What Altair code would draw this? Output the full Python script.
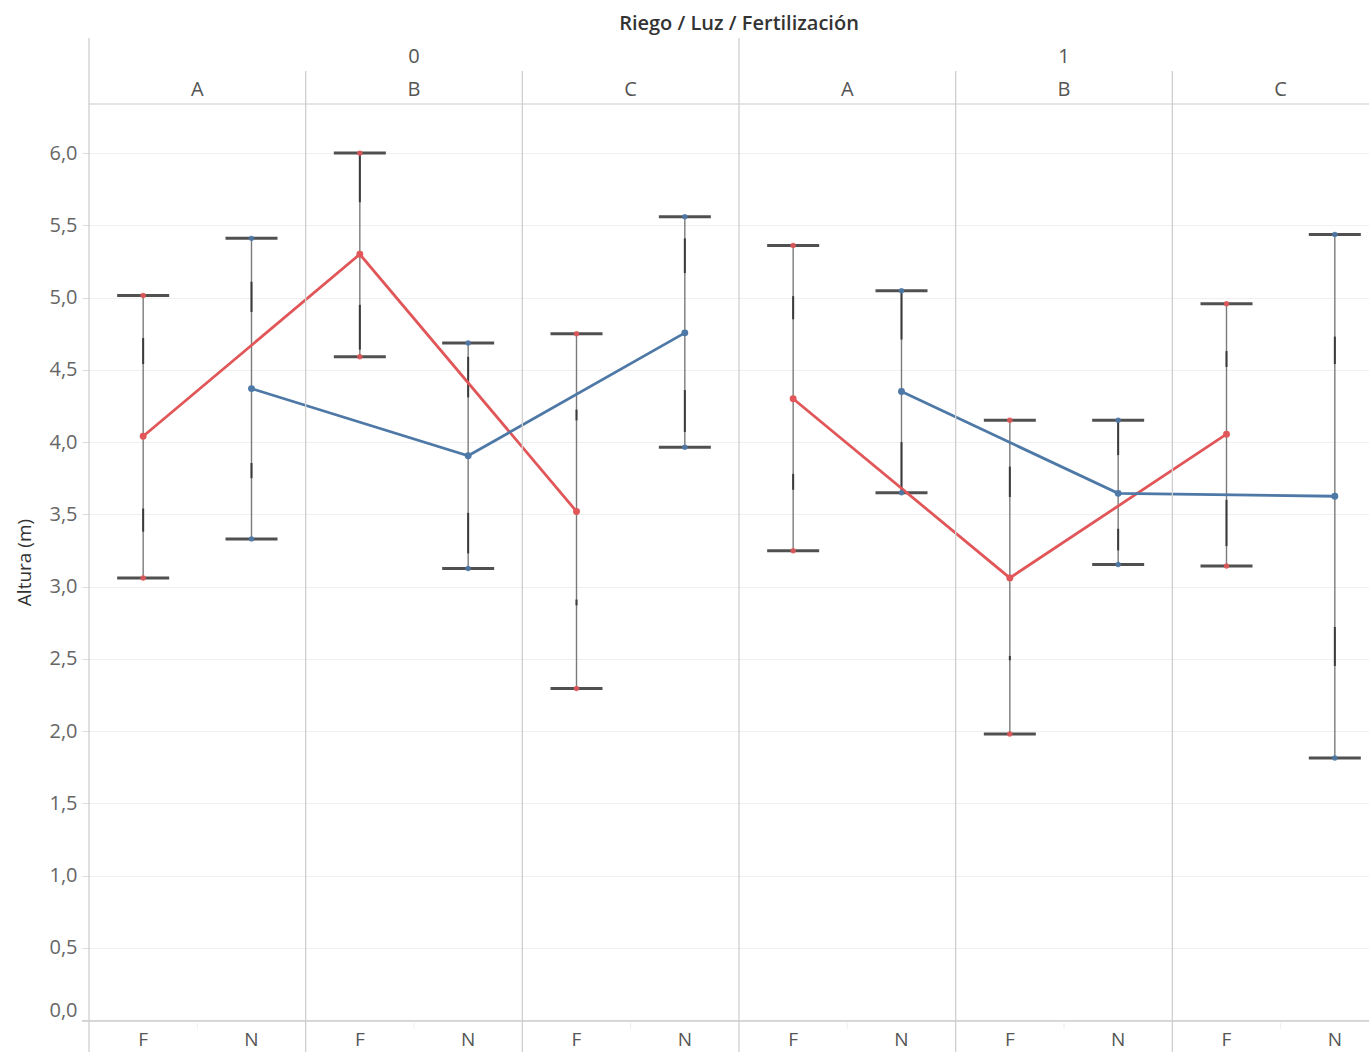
import itertools

import altair as alt
import pandas as pd

# Nesting of the columns: Riego / Luz / Fertilización
riego = ["0", "1"]
luz = ["A", "B", "C"]
fert = ["F", "N"]

# Altura (m) per cell, in nesting order (Riego 0: AF, AN, BF, BN, CF, CN; then Riego 1)
media = [4.04, 4.37, 5.30, 3.905, 3.52, 4.756,
         4.30, 4.35, 3.06, 3.645, 4.055, 3.625]
limite_sup = [5.015, 5.41, 6.00, 4.685, 4.75, 5.56,
              5.36, 5.047, 4.151, 4.151, 4.958, 5.436]
limite_inf = [3.06, 3.33, 4.59, 3.125, 2.294, 3.965,
              3.248, 3.649, 1.98, 3.152, 3.142, 1.813]
# inner bands drawn heavier on each whisker (upper band, lower band)
banda_sup_lo = [4.54, 4.90, 5.66, 4.31, 4.15, 5.17,
                4.85, 4.71, 3.62, 3.91, 4.52, 4.54]
banda_sup_hi = [4.72, 5.11, 6.00, 4.59, 4.225, 5.41,
                5.01, 5.05, 3.83, 4.15, 4.63, 4.73]
banda_inf_lo = [3.38, 3.75, 4.64, 3.23, 2.87, 4.07,
                3.67, 3.65, 2.49, 3.25, 3.28, 2.45]
banda_inf_hi = [3.54, 3.855, 4.95, 3.51, 2.91, 4.36,
                3.78, 4.00, 2.52, 3.40, 3.60, 2.72]

ROJO = "#e15759"
AZUL = "#4e79a7"
FONT = "Open Sans"

celdas = list(itertools.product(riego, luz, fert))
df = pd.DataFrame({
    "Riego": [c[0] for c in celdas],
    "Luz": [c[1] for c in celdas],
    "Fertilización": [c[2] for c in celdas],
    "media": media,
    "sup": limite_sup,
    "inf": limite_inf,
})
df["pos"] = [i + 0.5 for i in range(len(df))]

bandas = pd.concat([
    pd.DataFrame({"pos": df["pos"], "lo": banda_sup_lo, "hi": banda_sup_hi}),
    pd.DataFrame({"pos": df["pos"], "lo": banda_inf_lo, "hi": banda_inf_hi}),
])
extremos = pd.concat([
    df[["pos", "Fertilización"]].assign(v=df["sup"]),
    df[["pos", "Fertilización"]].assign(v=df["inf"]),
])

n = len(df)
W, H = 1280, 916      # visible view; the last pane runs past the right edge
ANCHO_PANELES = 1300  # full width of the 12 columns
xs = alt.Scale(domain=[0, n], range=[0, ANCHO_PANELES], nice=False, zero=False)
ys = alt.Scale(domain=[0, 6.34], nice=False, zero=False)
color = alt.Color("Fertilización:N", scale=alt.Scale(domain=fert, range=[ROJO, AZUL]), legend=None)

y_axis = alt.Axis(
    values=[i * 0.5 for i in range(13)],
    labelExpr="replace(format(datum.value, '.1f'), '.', ',')",
    grid=True, gridColor="#f0f0f0", gridWidth=1,
    domain=False, tickColor="#dcdcdc", tickSize=7,
    labelPadding=5, labelFontSize=20, labelColor="#666666", labelFont=FONT,
    labelFlush=True,
    title="Altura (m)", titleFontSize=19, titleFontWeight="normal",
    titleColor="#333333", titleFont=FONT, titlePadding=14,
)

base = alt.Chart(df)

bigotes = base.mark_rule(color="#7a7a7a", strokeWidth=1.4).encode(
    x=alt.X("pos:Q", scale=xs, axis=None),
    y=alt.Y("inf:Q", scale=ys, axis=y_axis),
    y2="sup:Q",
)

gruesos = alt.Chart(bandas).mark_rule(color="#3a3a3a", strokeWidth=2).encode(
    x=alt.X("pos:Q", scale=xs, axis=None),
    y=alt.Y("lo:Q", scale=ys),
    y2="hi:Q",
)

topes = alt.Chart(extremos).mark_tick(
    orient="horizontal", size=52, thickness=3, color="#505050", opacity=1
).encode(
    x=alt.X("pos:Q", scale=xs, axis=None),
    y=alt.Y("v:Q", scale=ys),
)

puntos_topes = alt.Chart(extremos).mark_circle(size=30, opacity=0.9).encode(
    x=alt.X("pos:Q", scale=xs, axis=None),
    y=alt.Y("v:Q", scale=ys),
    color=color,
)

lineas = base.mark_line(strokeWidth=2.8).encode(
    x=alt.X("pos:Q", scale=xs, axis=None),
    y=alt.Y("media:Q", scale=ys),
    color=color,
    detail="Riego:N",
)

puntos = base.mark_circle(size=48, opacity=1).encode(
    x=alt.X("pos:Q", scale=xs, axis=None),
    y=alt.Y("media:Q", scale=ys),
    color=color,
)

# --- header and frame ---
uno = pd.DataFrame({"k": [0]})
marco_col = "#cfcfcf"

linea_sup = alt.Chart(uno).mark_rule(color="#dddddd", strokeWidth=1.3).encode(
    x=alt.value(0), x2=alt.value(W), y=alt.value(0))
linea_inf = alt.Chart(uno).mark_rule(color="#cccccc", strokeWidth=1.3).encode(
    x=alt.value(-7), x2=alt.value(W), y=alt.value(H + 1))

cortes_riego = pd.DataFrame({"x": [i * n / len(riego) for i in range(len(riego))]})
cortes_luz = pd.DataFrame({
    "x": [i * 2 for i in range(n // 2) if (i * 2) % (n // len(riego)) != 0]
})
div_riego = alt.Chart(cortes_riego).mark_rule(color=marco_col, strokeWidth=1.3).encode(
    x=alt.X("x:Q", scale=xs, axis=None), y=alt.value(-66), y2=alt.value(H + 32))
div_luz = alt.Chart(cortes_luz).mark_rule(color=marco_col, strokeWidth=1.3).encode(
    x=alt.X("x:Q", scale=xs, axis=None), y=alt.value(-33), y2=alt.value(H + 32))
marcas_fert = alt.Chart(pd.DataFrame({"x": [i * 2 + 1 for i in range(n // 2)]})).mark_rule(
    color="#eeeeee", strokeWidth=1).encode(
    x=alt.X("x:Q", scale=xs, axis=None), y=alt.value(H + 3), y2=alt.value(H + 9))

titulo = alt.Chart(pd.DataFrame({"t": ["Riego / Luz / Fertilización"], "x": [n / 2]})).mark_text(
    font=FONT, fontSize=20, fontWeight=600, color="#333333", baseline="middle"
).encode(x=alt.X("x:Q", scale=xs, axis=None), y=alt.value(-80), text="t:N")

hdr_riego = pd.DataFrame({"t": riego, "x": [(i + 0.5) * n / len(riego) for i in range(len(riego))]})
hdr_luz = pd.DataFrame({
    "t": [l for _ in riego for l in luz],
    "x": [i * 2 + 1 for i in range(len(riego) * len(luz))],
})
texto_riego = alt.Chart(hdr_riego).mark_text(
    font=FONT, fontSize=20, color="#555555", baseline="middle"
).encode(x=alt.X("x:Q", scale=xs, axis=None), y=alt.value(-47), text="t:N")
texto_luz = alt.Chart(hdr_luz).mark_text(
    font=FONT, fontSize=20, color="#555555", baseline="middle"
).encode(x=alt.X("x:Q", scale=xs, axis=None), y=alt.value(-14), text="t:N")
texto_fert = base.mark_text(
    font=FONT, fontSize=19, color="#555555", baseline="middle"
).encode(x=alt.X("pos:Q", scale=xs, axis=None), y=alt.value(H + 20), text="Fertilización:N")

chart = alt.layer(
    bigotes, gruesos, topes, lineas, puntos_topes, puntos,
    linea_sup, linea_inf, div_riego, div_luz, marcas_fert,
    titulo, texto_riego, texto_luz, texto_fert,
).properties(
    width=W, height=H,
    padding={"left": 89, "top": 104, "right": 0, "bottom": 32},
    autosize=alt.AutoSizeParams(type="none"),
).configure(font=FONT).configure_view(stroke=None)

chart.save("out.html", embed_options={"renderer": "svg", "actions": False})
